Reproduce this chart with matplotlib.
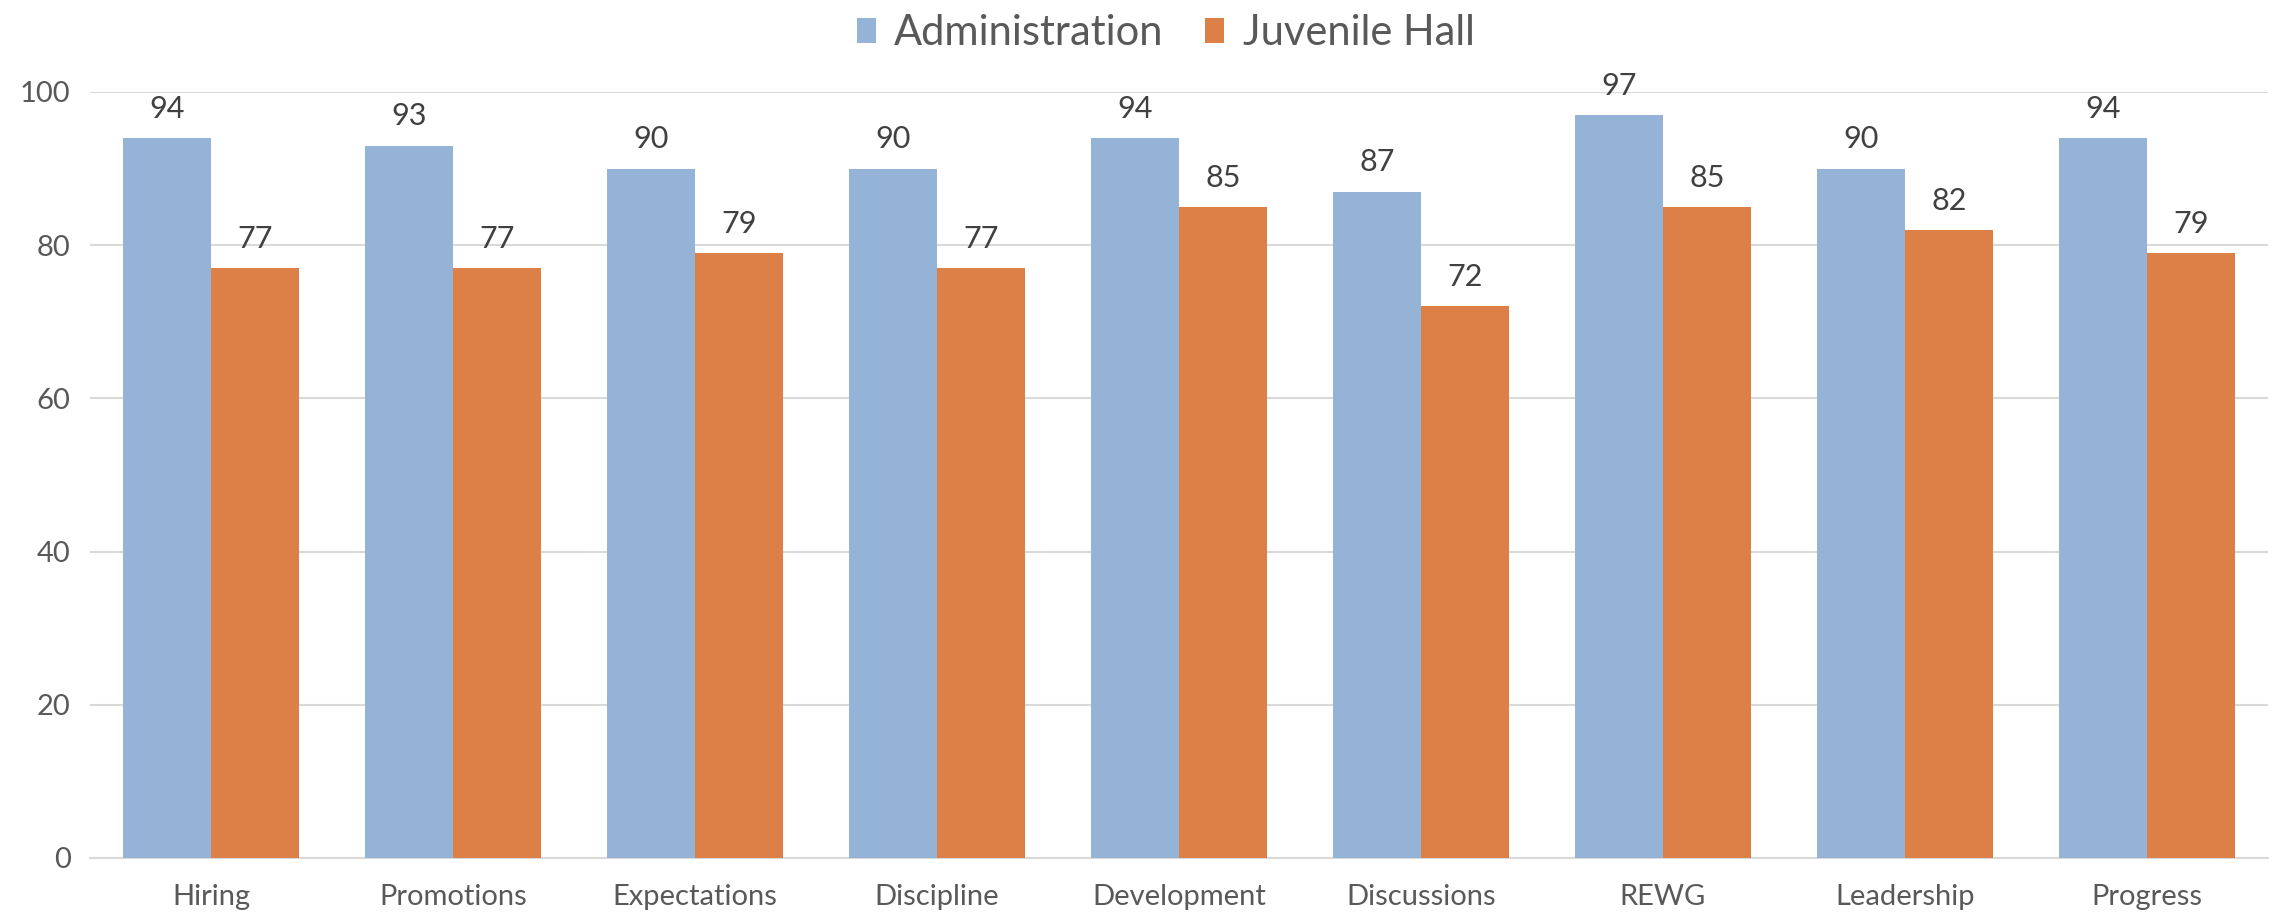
import matplotlib.pyplot as plt
import numpy as np

plt.rcParams['font.family'] = ['Lato', 'DejaVu Sans']

categories = ["Hiring", "Promotions", "Expectations", "Discipline", "Development",
              "Discussions", "REWG", "Leadership", "Progress"]
administration = [94, 93, 90, 90, 94, 87, 97, 90, 94]
juvenile_hall = [77, 77, 79, 77, 85, 72, 85, 82, 79]

blue = "#95B3D7"
orange = "#DD8047"
text_col = "#595959"

fig = plt.figure(figsize=(22.77, 9.16), dpi=100)
ax = fig.add_axes([90 / 2277, 58 / 916, 2178 / 2277, 766 / 916])

x = np.arange(len(categories))
w = 0.364
b1 = ax.bar(x - w / 2, administration, w, color=blue, label="Administration", zorder=3)
b2 = ax.bar(x + w / 2, juvenile_hall, w, color=orange, label="Juvenile Hall", zorder=3)

for bars in (b1, b2):
    for r in bars:
        ax.annotate(f"{r.get_height():.0f}", (r.get_x() + r.get_width() / 2, r.get_height()),
                    xytext=(0, 11), textcoords="offset points", ha="center", va="bottom",
                    fontsize=22, color="#404040")

ax.set_xlim(-0.5, len(categories) - 0.5)
ax.set_ylim(0, 100)
ax.set_yticks(range(0, 101, 20))
ax.set_xticks(x)
ax.set_xticklabels(categories)
ax.tick_params(axis="both", length=0, labelsize=21, colors=text_col)
ax.tick_params(axis="y", pad=14)
ax.tick_params(axis="x", pad=19)
ax.yaxis.grid(True, color="#D9D9D9", linewidth=1.5, zorder=0)
for s in ["top", "right", "left"]:
    ax.spines[s].set_visible(False)
ax.spines["bottom"].set_color("#D9D9D9")
ax.spines["bottom"].set_linewidth(1.5)

fig.legend(loc="center", bbox_to_anchor=(0.512, 1 - 33 / 916), ncol=2, frameon=False,
           fontsize=30, labelcolor=text_col, handlelength=0.45, handleheight=0.55,
           handletextpad=0.45, columnspacing=1.0)

fig.savefig("out.png", dpi=100)
